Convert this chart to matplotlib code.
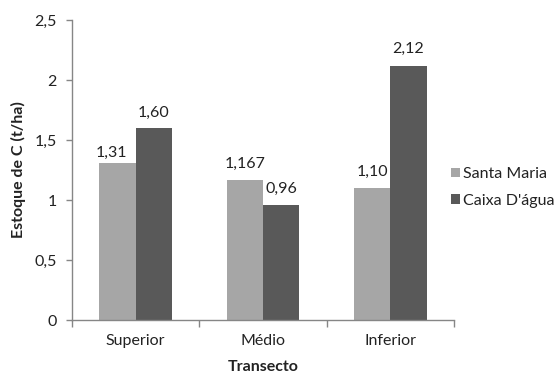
import matplotlib
matplotlib.use("Agg")
import matplotlib.pyplot as plt
import numpy as np

categories = ["Superior", "Médio", "Inferior"]
santa_maria = [1.31, 1.167, 1.10]
caixa_dagua = [1.60, 0.96, 2.12]
santa_labels = ["1,31", "1,167", "1,10"]
caixa_labels = ["1,60", "0,96", "2,12"]
yticks = [0, 0.5, 1, 1.5, 2, 2.5]
ytick_labels = ["0", "0,5", "1", "1,5", "2", "2,5"]

# label offsets in points (style, not data)
santa_offsets = [(-4.3, 4.0), (0, 8.8), (0, 8.6)]
caixa_offsets = [(0, 8.3), (0, 8.6), (0, 9.0)]

plt.rcParams['font.family'] = ['Lato', 'DejaVu Sans']
FS = 11.5
TC = "#222222"

fig = plt.figure(figsize=(5.55, 3.74), dpi=100)
ax = fig.add_axes([72/555, 54/374, (454-72)/555, 300/374])

x = np.arange(len(categories))
w = 0.286
c1 = "#A6A6A6"
c2 = "#595959"
b1 = ax.bar(x - w/2, santa_maria, w, color=c1, label="Santa Maria")
b2 = ax.bar(x + w/2, caixa_dagua, w, color=c2, label="Caixa D'água")

for bars, labs, offs in ((b1, santa_labels, santa_offsets), (b2, caixa_labels, caixa_offsets)):
    for r, lab, off in zip(bars, labs, offs):
        ax.annotate(lab, (r.get_x() + r.get_width()/2, r.get_height()),
                    xytext=off, textcoords="offset points",
                    ha="center", va="baseline", fontsize=FS, color=TC)

ax.set_xlim(-0.5, 2.5)
ax.set_ylim(0, 2.5)
ax.set_yticks(yticks)
ax.set_yticklabels(ytick_labels)
ax.set_xticks(x)
ax.set_xticklabels(categories)
ax.set_xticks([-0.5, 0.5, 1.5, 2.5], minor=True)
ax.tick_params(axis='x', which='major', length=0, pad=10, labelsize=FS, labelcolor=TC)
ax.tick_params(axis='x', which='minor', length=5, color="#868686", width=1)
ax.tick_params(axis='y', length=4, color="#868686", width=1, labelsize=FS, labelcolor=TC, pad=7)

for s in ("top", "right"):
    ax.spines[s].set_visible(False)
for s in ("left", "bottom"):
    ax.spines[s].set_color("#868686")
    ax.spines[s].set_linewidth(1)

ax.set_ylabel("Estoque de C (t/ha)", fontsize=FS, fontweight="bold", labelpad=6, color=TC)
ax.set_xlabel("Transecto", fontsize=FS, fontweight="bold", labelpad=9, color=TC)

h, l = ax.get_legend_handles_labels()
leg = fig.legend(h, l, loc="center left", bbox_to_anchor=(451/555, 1 - 187.5/374),
                 frameon=False, fontsize=FS, handlelength=0.56, handleheight=0.56,
                 handletextpad=0.2, labelspacing=0.8, borderaxespad=0, borderpad=0)
for t in leg.get_texts():
    t.set_color(TC)

fig.savefig("out.png", dpi=100)
